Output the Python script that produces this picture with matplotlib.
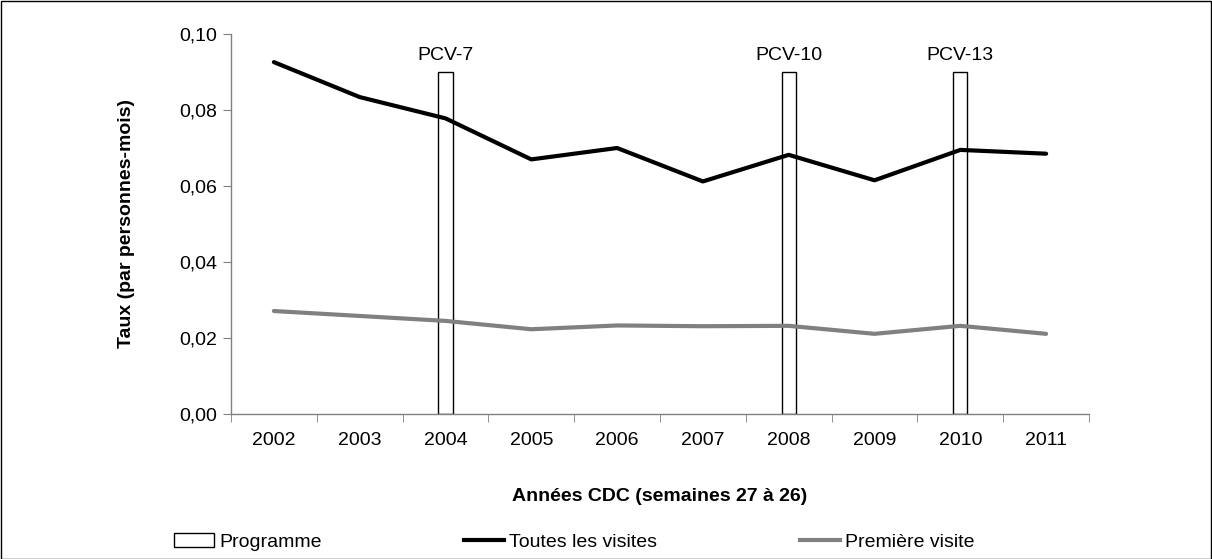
import matplotlib
matplotlib.use("Agg")
import matplotlib.pyplot as plt
from matplotlib.patches import Rectangle, Patch
from matplotlib.lines import Line2D
from matplotlib.ticker import FuncFormatter, FixedLocator
import numpy as np

plt.rcParams['font.family'] = ['Liberation Sans', 'DejaVu Sans']

years = ['2002', '2003', '2004', '2005', '2006', '2007', '2008', '2009', '2010', '2011']
toutes = [0.0926, 0.0834, 0.0778, 0.0670, 0.0700, 0.0612, 0.0682, 0.0615, 0.0695, 0.0685]
premiere = [0.0271, 0.0258, 0.0245, 0.0223, 0.0233, 0.0231, 0.0232, 0.0211, 0.0232, 0.0211]
programme_years = ['2004', '2008', '2010']
programme_height = [0.09, 0.09, 0.09]
programme_labels = ['PCV-7', 'PCV-10', 'PCV-13']

FS = 14

fig = plt.figure(figsize=(12.12, 5.59), dpi=100)
ax = fig.add_axes([231/1212, 1 - 414/559, (1089-231)/1212, (414-34)/559])

x = np.arange(len(years))
idx = [years.index(y) for y in programme_years]
ax.bar(idx, programme_height, width=0.165, facecolor='white', edgecolor='black', linewidth=1.0, zorder=2)
for i, h, lab in zip(idx, programme_height, programme_labels):
    ax.text(i, h + 0.0022, lab, ha='center', va='bottom', fontsize=FS)

ax.plot(x, toutes, color='black', linewidth=3, zorder=3, solid_capstyle='round')
ax.plot(x, premiere, color='#808080', linewidth=3, zorder=3, solid_capstyle='round')

ax.set_xlim(-0.5, len(years) - 0.5)
ax.set_ylim(0, 0.10)
ax.set_yticks([0, 0.02, 0.04, 0.06, 0.08, 0.10])
ax.yaxis.set_major_formatter(FuncFormatter(lambda v, p: f"{v:.2f}".replace('.', ',')))
ax.set_xticks(x)
ax.set_xticklabels(years)
ax.xaxis.set_minor_locator(FixedLocator(np.arange(-0.5, len(years), 1)))
ax.tick_params(axis='x', which='major', length=0, pad=13, labelsize=FS)
ax.tick_params(axis='x', which='minor', length=6, color='#808080', direction='out')
ax.tick_params(axis='y', length=6, color='#808080', labelsize=FS, pad=4)
for s in ['top', 'right']:
    ax.spines[s].set_visible(False)
for s in ['left', 'bottom']:
    ax.spines[s].set_color('#808080')
    ax.spines[s].set_linewidth(1)

ax.set_xlabel('Années CDC (semaines 27 à 26)', fontsize=FS, fontweight='bold', labelpad=28)
ax.set_ylabel('Taux (par personnes-mois)', fontsize=FS, fontweight='bold', labelpad=32)

handles = [Patch(facecolor='white', edgecolor='black', linewidth=1.0),
           Line2D([0], [0], color='black', linewidth=3),
           Line2D([0], [0], color='#808080', linewidth=3)]
fig.legend(handles, ['Programme', 'Toutes les visites', 'Première visite'],
           loc='center left', bbox_to_anchor=(174/1212, 1 - 542/559), ncol=3,
           frameon=False, fontsize=FS, handlelength=2.06, handletextpad=0.25,
           columnspacing=7.35, borderaxespad=0, borderpad=0)

fig.add_artist(Rectangle((0.5/1212, 0.5/559), 1 - 1.5/1212, 1 - 1.5/559, transform=fig.transFigure,
                         fill=False, edgecolor='black', linewidth=1))

fig.savefig('out.png', dpi=100)
